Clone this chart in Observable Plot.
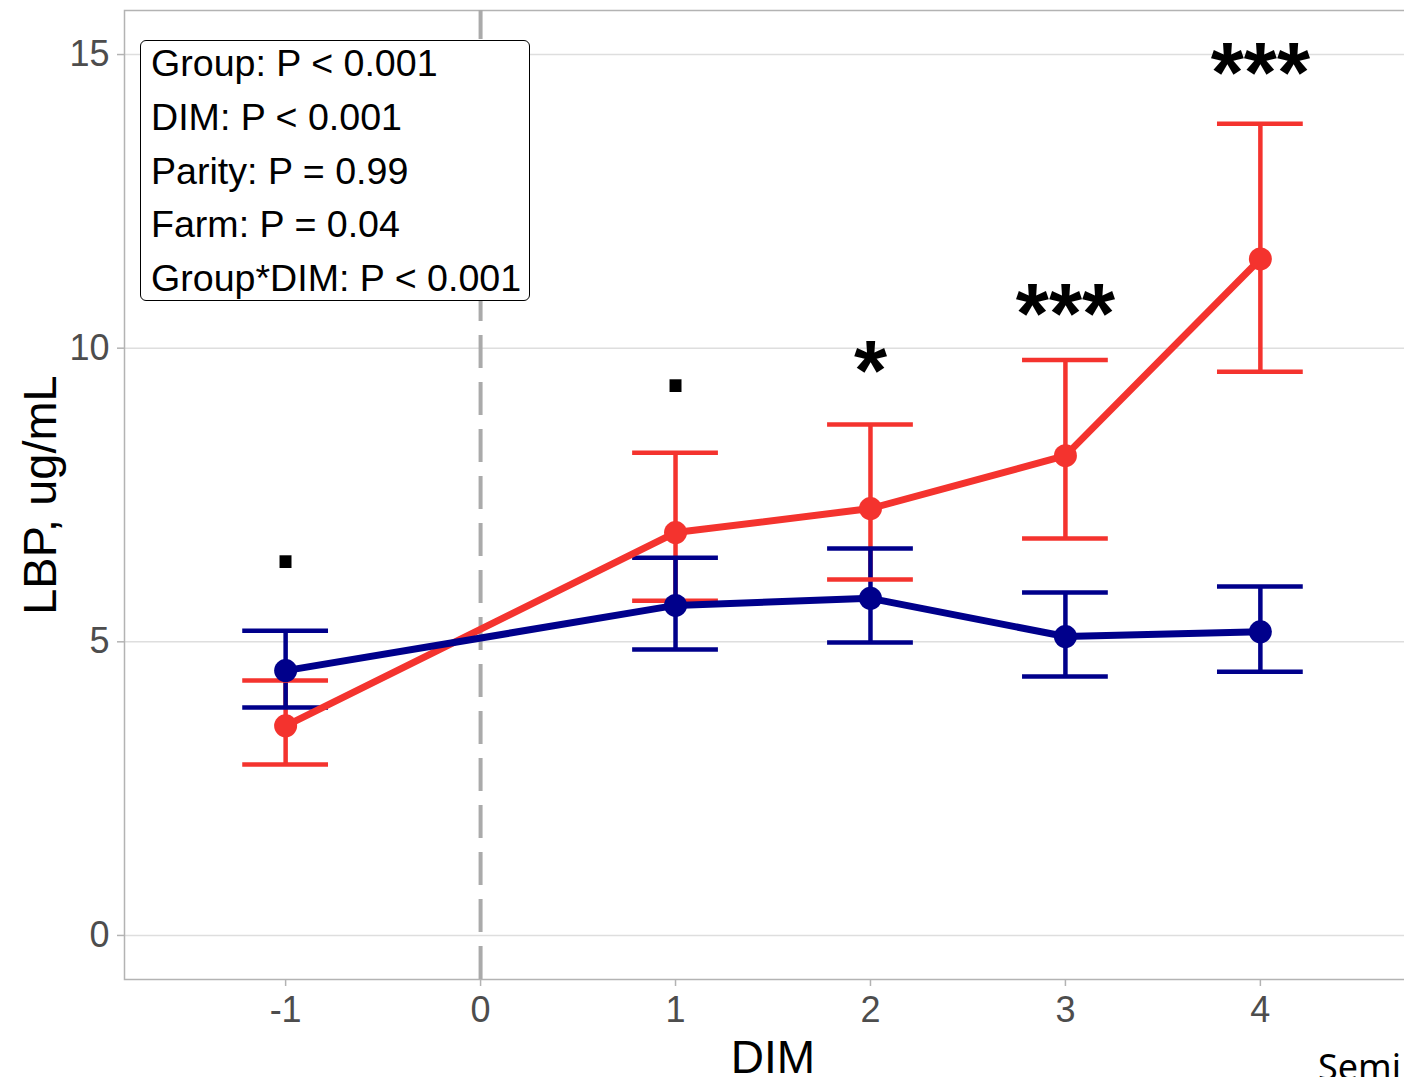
<!DOCTYPE html>
<html>
<head>
<meta charset="utf-8">
<script src="https://cdn.jsdelivr.net/npm/d3@7"></script>
<script src="https://cdn.jsdelivr.net/npm/@observablehq/plot@0.6"></script>
<style>
  html, body { margin: 0; padding: 0; background: #fff; overflow: hidden; }
  #wrap { position: relative; width: 1404px; height: 1077px; overflow: hidden; background: #fff; }
  #chart svg { display: block; max-width: none !important; }
  #stats { position: absolute; left: 140px; top: 40px; width: 388px; height: 259px;
           border: 1.5px solid #000; border-radius: 6px; background: #fff;
           font-family: "Liberation Sans", Arial, sans-serif; font-size: 37.6px; color: #000; }
  #stats .l { position: absolute; left: 10px; line-height: 1; white-space: nowrap; }
  #semi { position: absolute; left: 1318px; top: 1049px; font-family: "Noto Sans", sans-serif;
          font-size: 36px; line-height: 1; color: #000; white-space: nowrap; }
</style>
</head>
<body>
<div id="wrap">
  <div id="chart"></div>
  <div id="stats"></div>
  <div id="semi">Semi</div>
</div>
<script>
// ---- data ----
const dims = [-1, 1, 2, 3, 4];
const groups = ["Group A", "Group B"];
const groupColors = ["#F4332E", "#00008B"];

const redMean  = [3.57, 6.86, 7.27, 8.17, 11.52];
const redLower = [2.91, 5.70, 6.06, 6.76, 9.60];
const redUpper = [4.34, 8.22, 8.70, 9.80, 13.82];

const blueMean  = [4.51, 5.62, 5.74, 5.09, 5.17];
const blueLower = [3.88, 4.87, 4.99, 4.41, 4.49];
const blueUpper = [5.19, 6.43, 6.59, 5.84, 5.94];

const sigLabels = [".", ".", "*", "***", "***"];
const sigY      = [6.26, 9.25, 9.11, 10.09, 14.2];

const xTicks = [-1, 0, 1, 2, 3, 4];
const yTicks = [0, 5, 10, 15];

const statLines = [
  "Group: P < 0.001",
  "DIM: P < 0.001",
  "Parity: P = 0.99",
  "Farm: P = 0.04",
  "Group*DIM: P < 0.001"
];

const xTitle = "DIM";
const yTitle = "LBP, ug/mL";

// ---- tables ----
const rows = [];
dims.forEach((d, i) => {
  rows.push({dim: d, group: groups[0], mean: redMean[i], lower: redLower[i], upper: redUpper[i]});
});
dims.forEach((d, i) => {
  rows.push({dim: d, group: groups[1], mean: blueMean[i], lower: blueLower[i], upper: blueUpper[i]});
});
const sig = dims.map((d, i) => ({dim: d, y: sigY[i], label: sigLabels[i]}));

const capHalf = 0.22;
const font = "Liberation Sans, Arial, sans-serif";

const chart = Plot.plot({
  width: 1421,
  height: 1077,
  marginLeft: 124,
  marginRight: 0,
  marginTop: 10,
  marginBottom: 98,
  style: {fontFamily: font, background: "#fff", overflow: "visible", maxWidth: "none"},
  x: {domain: [-1.8265, 4.8265]},
  y: {domain: [-0.75, 15.75]},
  color: {domain: groups, range: groupColors},
  marks: [
    Plot.gridY(yTicks, {stroke: "#dedede", strokeOpacity: 1, strokeWidth: 1.5}),
    Plot.frame({stroke: "#b3b3b3", strokeWidth: 1.5}),
    Plot.ruleX([0], {stroke: "#aaaaaa", strokeWidth: 4, strokeDasharray: "33,14", strokeDashoffset: 4}),
    Plot.axisY(yTicks, {tickSize: 7, tickPadding: 8, stroke: "#b3b3b3", strokeWidth: 1.5,
                        fill: "#4d4d4d", fontSize: 36, label: null, tickFormat: d => String(d)}),
    Plot.axisX(xTicks, {tickSize: 7, tickPadding: 10, stroke: "#b3b3b3", strokeWidth: 1.5,
                        fill: "#4d4d4d", fontSize: 36, label: null, tickFormat: d => String(d)}),
    // error bars
    Plot.ruleX(rows, {x: "dim", y1: "lower", y2: "upper", stroke: "group", strokeWidth: 4.5}),
    Plot.ruleY(rows, {y: "upper", x1: d => d.dim - capHalf, x2: d => d.dim + capHalf, stroke: "group", strokeWidth: 4.5}),
    Plot.ruleY(rows, {y: "lower", x1: d => d.dim - capHalf, x2: d => d.dim + capHalf, stroke: "group", strokeWidth: 4.5}),
    // lines and points
    Plot.line(rows, {x: "dim", y: "mean", stroke: "group", strokeWidth: 7}),
    Plot.dot(rows, {x: "dim", y: "mean", fill: "group", r: 11.5}),
    // significance
    Plot.text(sig, {x: "dim", y: "y", text: "label", fontSize: 85, fontWeight: "bold",
                    fill: "#000", lineAnchor: "bottom"}),
    // axis titles
    Plot.text([yTitle], {text: d => d, frameAnchor: "left", textAnchor: "middle", rotate: -90, dx: -102,
                         lineAnchor: "top", fontSize: 47, fill: "#000"}),
    Plot.text([xTitle], {text: d => d, frameAnchor: "bottom", textAnchor: "middle", dy: 93,
                         lineAnchor: "bottom", fontSize: 46, fill: "#000"})
  ]
});
document.getElementById("chart").appendChild(chart);

const box = document.getElementById("stats");
statLines.forEach((t, i) => {
  const el = document.createElement("div");
  el.className = "l";
  el.style.top = (4 + 53.75 * i) + "px";
  el.textContent = t;
  box.appendChild(el);
});
</script>
</body>
</html>
